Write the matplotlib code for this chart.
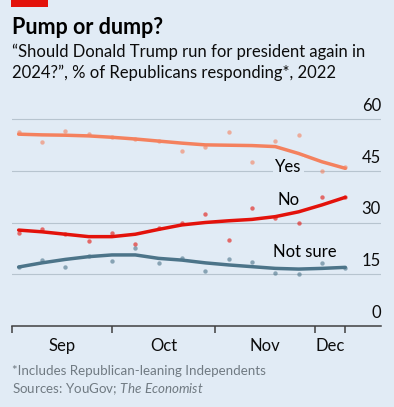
import matplotlib.pyplot as plt
import matplotlib.dates as mdates
from datetime import date, timedelta

plt.rcParams["font.family"] = ["Lato", "DejaVu Sans"]
plt.rcParams["mathtext.fontset"] = "custom"
plt.rcParams["mathtext.it"] = "Lato:italic"
plt.rcParams["mathtext.rm"] = "Lato"

# Weekly polls, Sep 3 - Dec 10 2022
dates = [date(2022, 9, 3) + timedelta(days=7 * i) for i in range(15)]

yes_pts = [56.1, 53.2, 56.6, 55.6, 54.9, 54.2, 53.6, 50.7, 52.0, 56.1, 47.5, 53.5, 55.4, 44.9, 46.1]
no_pts = [27.0, 28.1, 26.6, 24.7, 27.0, 23.7, 28.5, 29.8, 32.5, 24.8, 34.1, 31.2, 29.8, 37.5, 37.3]
ns_pts = [17.1, 19.1, 17.1, 20.2, 18.8, 22.5, 18.3, 19.8, 15.9, 19.4, 18.6, 15.5, 15.2, 18.2, 16.9]

# smoothed trend lines
yes_trend = [55.6, 55.4, 55.3, 55.1, 54.7, 54.2, 53.6, 53.0, 52.5, 52.4, 52.3, 52.0, 50.0, 47.6, 45.7]
no_trend = [27.8, 27.3, 26.6, 25.9, 25.9, 26.6, 28.0, 29.3, 30.0, 30.5, 30.9, 31.7, 33.1, 35.1, 37.3]
ns_trend = [17.1, 18.3, 19.3, 20.1, 20.6, 20.6, 19.6, 19.1, 18.3, 17.7, 17.2, 16.7, 16.5, 16.7, 17.0]

yticks = [0, 15, 30, 45, 60]
months = ["Sep", "Oct", "Nov", "Dec"]

bg = "#e1ebf5"
c_yes, c_no, c_ns = "#f4815e", "#e3120b", "#4c7489"

fig = plt.figure(figsize=(3.94, 4.07), dpi=100, facecolor=bg)
ax = fig.add_axes([12 / 394, 1 - 326 / 407, (381 - 12) / 394, (326 - 119) / 407 * 66 / 60])
ax.set_facecolor(bg)

start = mdates.date2num(date(2022, 9, 1))
ax.set_xlim(start, start + (381 - 12) / 3.333)
ax.set_ylim(0, 66)

for v in yticks:
    if v > 0:
        ax.axhline(v, color="#b7c4cf", lw=0.8, zorder=0)
    ax.text(1.0, v + 1.5, str(v), transform=ax.get_yaxis_transform(), ha="right", va="bottom",
            fontsize=12, color="#0c0c0c")

for pts, trend, col in [(yes_pts, yes_trend, c_yes), (no_pts, no_trend, c_no), (ns_pts, ns_trend, c_ns)]:
    ax.scatter(dates, pts, s=10, color=col, alpha=0.6, lw=0, zorder=2)
    ax.plot(dates, trend, color=col, lw=2.5, solid_capstyle="round", solid_joinstyle="round", zorder=3)

box = dict(facecolor=bg, edgecolor="none", pad=1.5)
ax.text(mdates.date2num(date(2022, 11, 23)), 46.0, "Yes", fontsize=12, ha="center", va="center", bbox=box, zorder=4)
ax.text(mdates.date2num(date(2022, 11, 23)), 36.6, "No", fontsize=12, ha="center", va="center", zorder=4)
ax.text(mdates.date2num(date(2022, 11, 28)), 21.5, "Not sure", fontsize=12, ha="center", va="center", zorder=4)

# x axis
for s in ["top", "right", "left"]:
    ax.spines[s].set_visible(False)
ax.spines["bottom"].set_color("#404040")
ax.spines["bottom"].set_linewidth(1.1)
ax.set_yticks([])
tick_dates = [date(2022, 9, 1), date(2022, 10, 1), date(2022, 11, 1), date(2022, 12, 1), date(2022, 12, 10)]
ax.set_xticks([mdates.date2num(d) for d in tick_dates])
ax.set_xticklabels([])
ax.tick_params(axis="x", length=5, width=1.1, color="#404040", direction="out")
for i, m in enumerate(months):
    mid = (mdates.date2num(tick_dates[i]) + mdates.date2num(tick_dates[i + 1])) / 2
    ax.text(mid, -3.6, m, ha="center", va="top", fontsize=12, color="#0c0c0c")

# titles
fig.patches.append(plt.Rectangle((11 / 394, 1 - 7 / 407), 37 / 394, 7 / 407, transform=fig.transFigure,
                                 color="#e3120b", lw=0))
fig.text(12 / 394, 1 - 28 / 407, "Pump or dump?", fontsize=15.5, fontweight="bold", va="center")
fig.text(12 / 394, 1 - 52 / 407, "\u201cShould Donald Trump run for president again in",
         fontsize=12, va="center", color="#0c0c0c")
fig.text(12 / 394, 1 - 73 / 407, "2024?\u201d, % of Republicans responding*, 2022",
         fontsize=12, va="center", color="#0c0c0c")
fig.text(12 / 394, 1 - 371 / 407, "*Includes Republican-leaning Independents",
         fontsize=9.6, va="center", color="#707a82")
fig.text(12 / 394, 1 - 389 / 407, "Sources: YouGov; $\\it{The\\ Economist}$",
         fontsize=9.6, va="center", color="#707a82")

fig.savefig("out.png", dpi=100, facecolor=bg)
